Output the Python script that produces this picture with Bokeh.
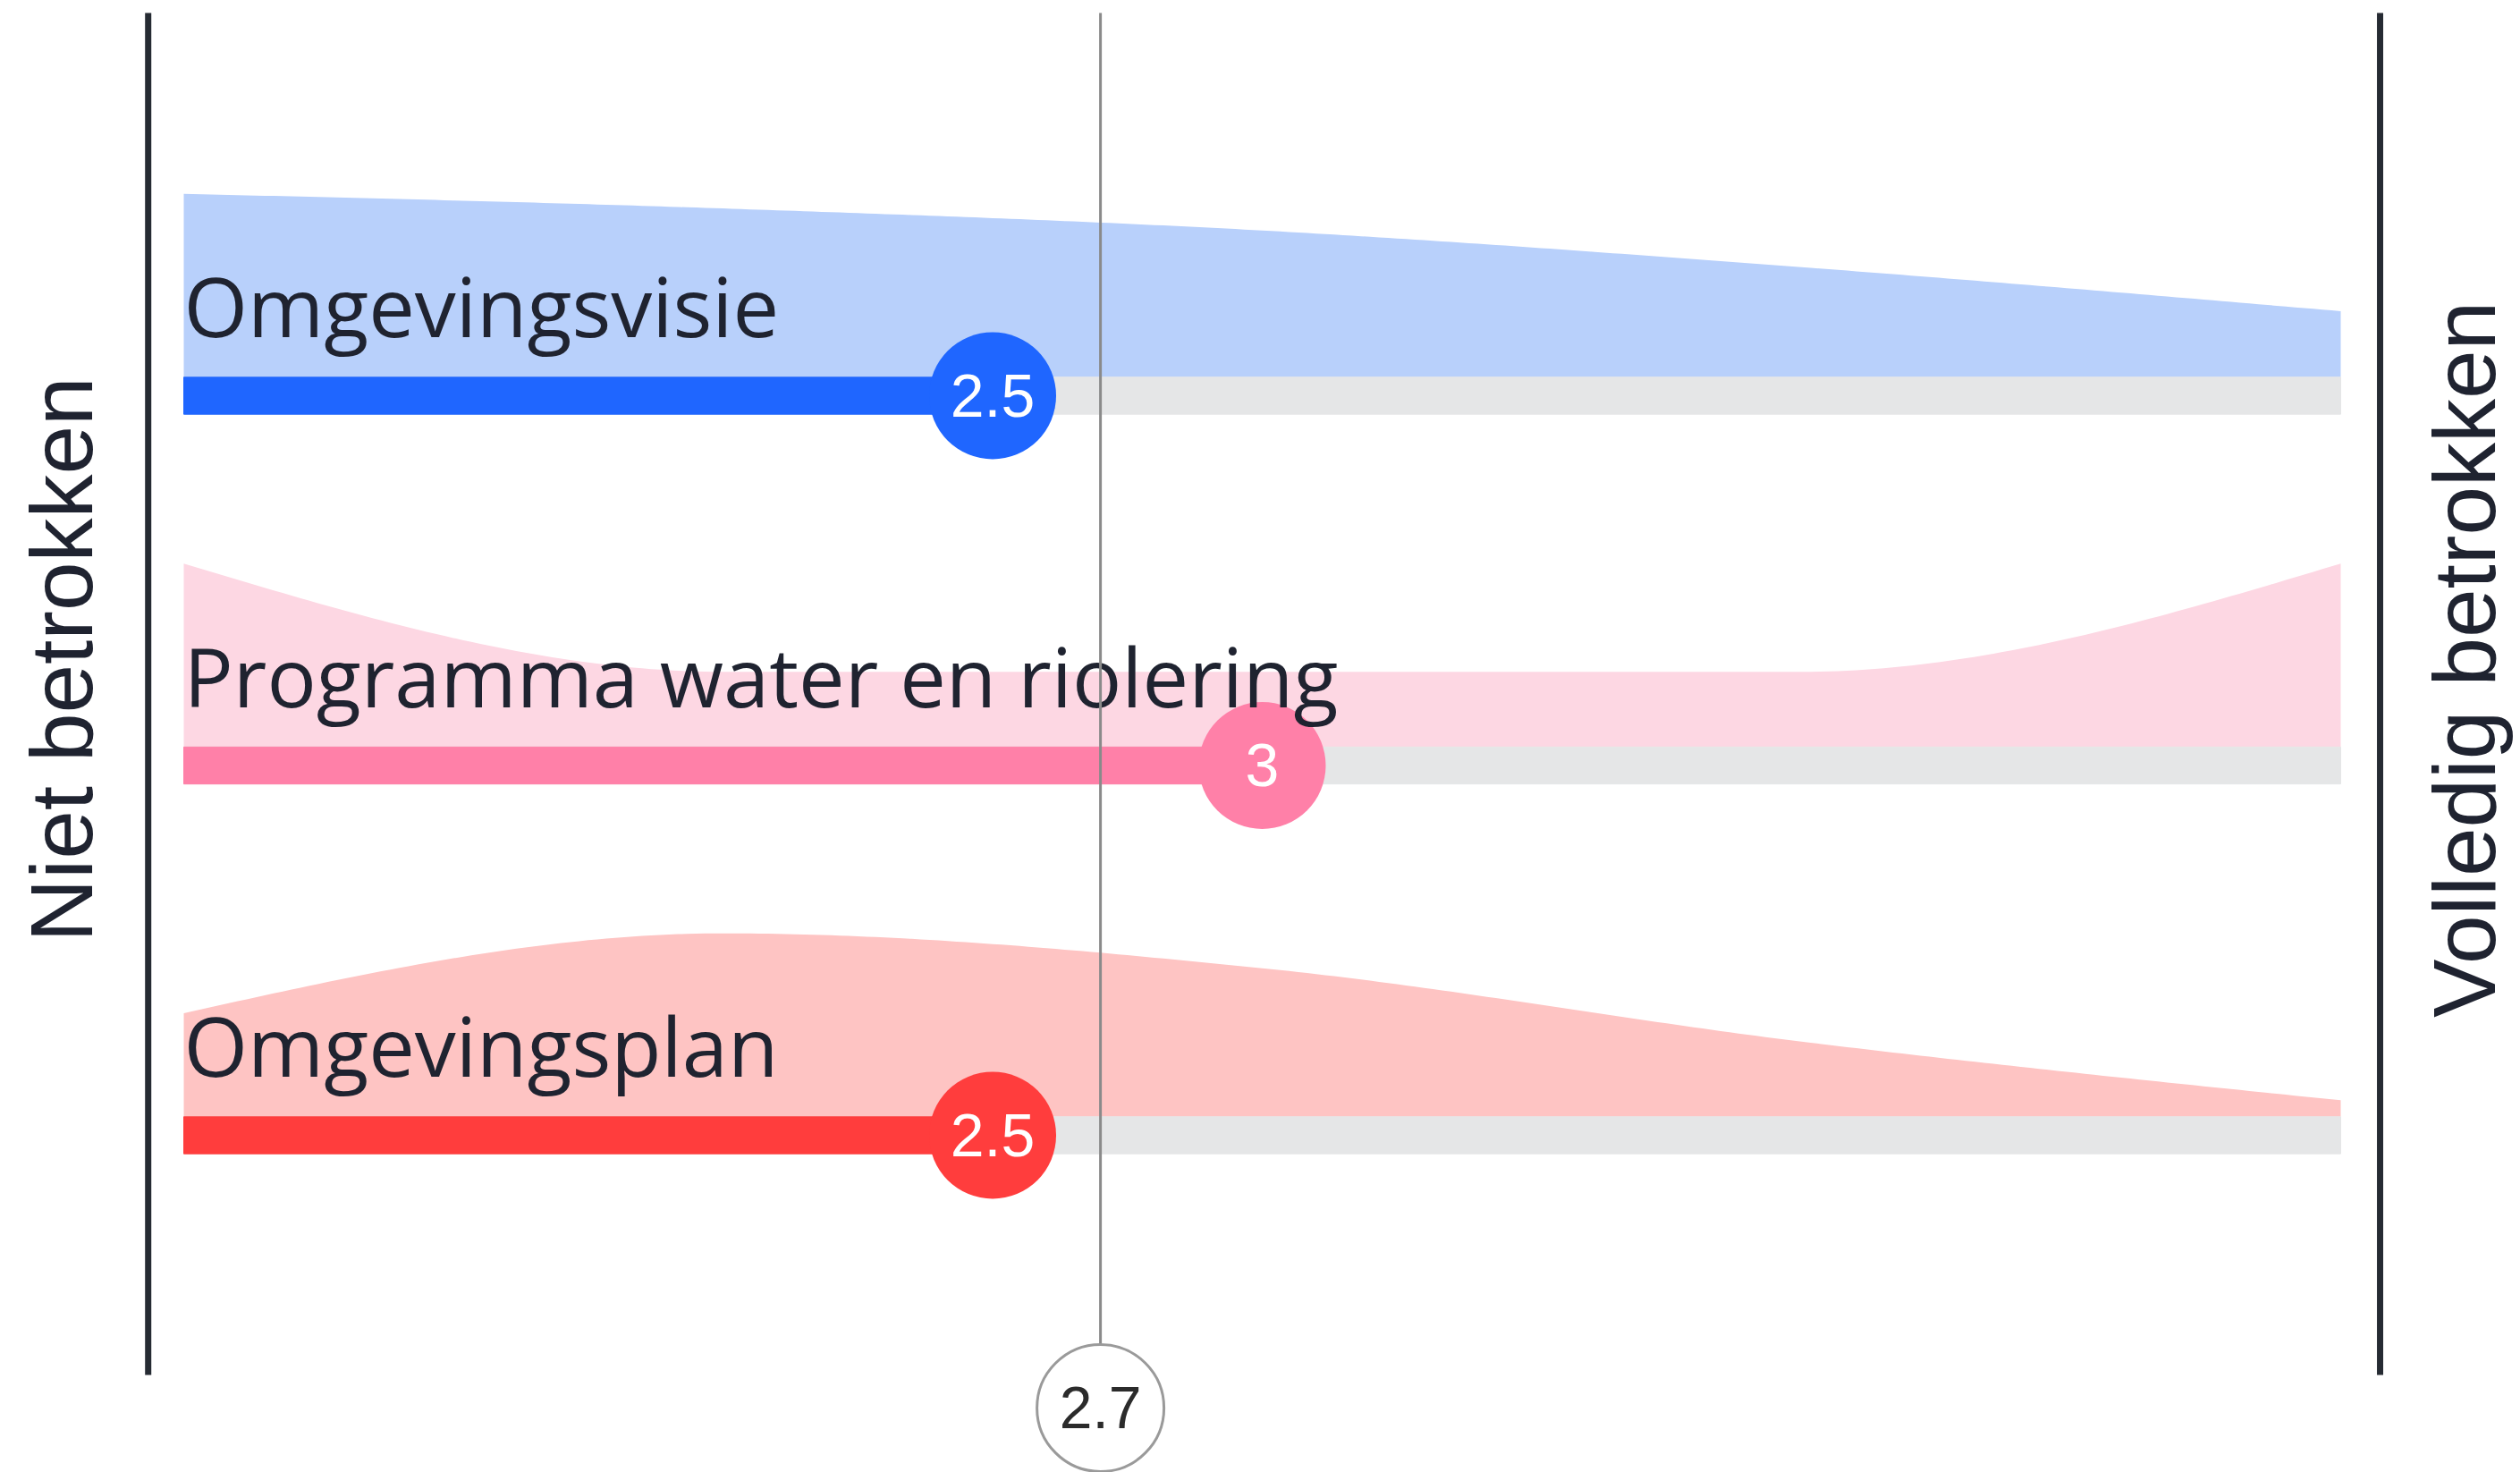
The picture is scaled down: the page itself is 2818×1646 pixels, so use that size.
import numpy as np
from bokeh.plotting import figure
from bokeh.models import Range1d, ColumnDataSource
from bokeh.core.properties import value
from bokeh.embed import file_html
from bokeh.resources import INLINE

# ---------------- data ----------------
categories = ["Omgevingsvisie", "Programma water en riolering", "Omgevingsplan"]
scores = [2.5, 3, 2.5]
score_labels = ["2.5", "3", "2.5"]
scale_points = [1, 2, 3, 4, 5]
dist_visie = [1.0, 0.92, 0.80, 0.60, 0.36]
dist_water = [1.0, 0.41, 0.41, 0.41, 1.0]
dist_plan = [0.565, 1.0, 0.81, 0.41, 0.09]
average = 2.7
average_label = "2.7"
scale_min_label = "Niet betrokken"
scale_max_label = "Volledig betrokken"

# ---------------- style ----------------
bar_colors = ["#1f66ff", "#ff80a8", "#ff3d3d"]
area_colors = ["#b8d0fb", "#fdd7e3", "#fec4c3"]
track_color = "#e5e6e7"
text_color = "#1f2330"
edge_color = "#262b33"
avg_color = "#8a8a8a"

row_y = [2, 1, 0]
BAR_H = 0.1
AREA_H = 0.496
LABEL_OFF = 0.244
TOP_Y = 3.035
BOTTOM_Y = -0.648
AVG_CIRCLE_Y = -0.7376
LEFT_EDGE = 0.934
RIGHT_EDGE = 5.073


def monotone_curve(xs, ys, n=60):
    """d3 curveMonotoneX rendering of the points."""
    xs = np.asarray(xs, float)
    ys = np.asarray(ys, float)
    h = np.diff(xs)
    s = np.diff(ys) / h
    sgn = lambda v: -1.0 if v < 0 else 1.0
    m = np.zeros_like(ys)
    for i in range(1, len(xs) - 1):
        p = (s[i - 1] * h[i] + s[i] * h[i - 1]) / (h[i - 1] + h[i])
        m[i] = (sgn(s[i - 1]) + sgn(s[i])) * min(abs(s[i - 1]), abs(s[i]), 0.5 * abs(p))
    m[0] = (3 * s[0] - m[1]) / 2
    m[-1] = (3 * s[-1] - m[-2]) / 2
    out_x, out_y = [], []
    for i in range(len(xs) - 1):
        t = np.linspace(0, 1, n, endpoint=(i == len(xs) - 2))
        p0 = ys[i]
        p1 = ys[i] + h[i] / 3 * m[i]
        p2 = ys[i + 1] - h[i] / 3 * m[i + 1]
        p3 = ys[i + 1]
        yy = (1 - t) ** 3 * p0 + 3 * (1 - t) ** 2 * t * p1 + 3 * (1 - t) * t ** 2 * p2 + t ** 3 * p3
        out_x.extend(xs[i] + t * h[i])
        out_y.extend(yy)
    return np.array(out_x), np.array(out_y)


p = figure(width=2818, height=1646, x_range=Range1d(0.66003, 5.3333),
           y_range=Range1d(-0.9118, 3.0689), x_axis_type=None, y_axis_type=None,
           toolbar_location=None, output_backend="svg", min_border=0)
p.outline_line_color = None
p.grid.visible = False
p.background_fill_color = "white"
p.border_fill_color = "white"

# distribution areas
for dist, ry, col in zip([dist_visie, dist_water, dist_plan], row_y, area_colors):
    cx, cy = monotone_curve(scale_points, dist)
    base = ry + BAR_H / 2
    p.varea(x=cx, y1=np.full_like(cx, base), y2=base + cy * AREA_H, fill_color=col)

# tracks and bars
src = ColumnDataSource(dict(y=row_y, score=scores, lab=score_labels, col=bar_colors,
                            cat=categories, ly=[r + LABEL_OFF for r in row_y],
                            start=[scale_points[0]] * 3, end=[scale_points[-1]] * 3))
p.hbar(y="y", left="start", right="end", height=BAR_H, color=track_color, source=src)
p.hbar(y="y", left="start", right="score", height=BAR_H, color="col", source=src)

# edge lines
p.segment(x0=[LEFT_EDGE, RIGHT_EDGE], x1=[LEFT_EDGE, RIGHT_EDGE], y0=[TOP_Y, TOP_Y],
          y1=[BOTTOM_Y, BOTTOM_Y], line_color=edge_color, line_width=7)

# score circles
p.scatter(x="score", y="y", size=142, fill_color="col", line_color=None, source=src)
p.text(x="score", y="y", text="lab", text_align="center", text_baseline="middle",
       text_font=value("Liberation Sans"), text_font_size="68px", text_color="white", source=src)

# row labels
p.text(x="start", y="ly", text="cat", text_align="left", text_baseline="alphabetic",
       text_font=value("Open Sans"), text_font_size="92px", text_color=text_color, source=src)

# average line
p.segment(x0=[average], x1=[average], y0=[TOP_Y], y1=[AVG_CIRCLE_Y], line_color=avg_color, line_width=3)
p.scatter(x=[average], y=[AVG_CIRCLE_Y], size=142, fill_color="white", line_color="#9a9a9a", line_width=3)
p.text(x=[average], y=[AVG_CIRCLE_Y], text=[average_label], text_align="center", text_baseline="middle",
       text_font=value("Liberation Sans"), text_font_size="66px", text_color="#2b2b2b")

# side labels
p.text(x=[0.7728, 5.2289], y=[1.2866, 1.2866], text=[scale_min_label, scale_max_label],
       angle=np.pi / 2, text_align="center", text_baseline="middle",
       text_font=value("Liberation Sans"), text_font_size="98px", text_color=text_color)

open("out.html", "w").write(file_html(p, INLINE))
